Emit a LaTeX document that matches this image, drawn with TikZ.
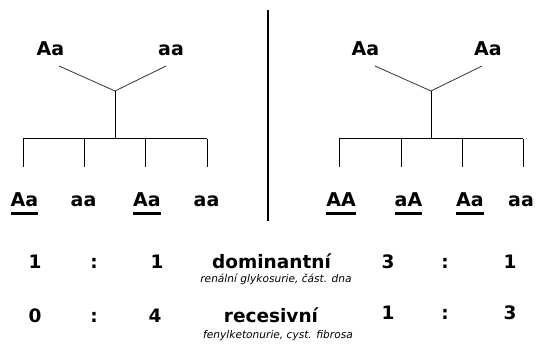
\documentclass[tikz,border=0pt]{standalone}
\usepackage{fontspec}
\setmainfont{DejaVu Sans}
\begin{document}
\begin{tikzpicture}[x=1pt,y=-1pt,
  lab/.style={font=\bfseries\fontsize{19}{22}\selectfont, inner sep=0pt, anchor=base},
  num/.style={font=\bfseries\fontsize{18.5}{21}\selectfont, inner sep=0pt, anchor=base},
  sub/.style={font=\itshape\fontsize{10.6}{12}\selectfont, inner sep=0pt, anchor=base},
  diag/.style={line width=0.8pt, draw=black!80},
  tree/.style={line width=1pt},
  ul/.style={line width=2.4pt}]
\useasboundingbox (0,0) rectangle (537,347);
% divider
\coordinate (dvt) at (268,10);
\coordinate (dvb) at (268,221);
\draw[line width=1.3pt] (dvt) -- (dvb);

% ----- left tree -----
\node[lab] (lp1) at (50.5,56) {Aa};
\node[lab] (lp2) at (171,56) {aa};
\coordinate (ld1) at (59,66);
\coordinate (ld2) at (166,66);
\coordinate (lj) at (115,91);
\coordinate (lh) at (115,139);
\coordinate (lh1) at (23,139);
\coordinate (lh2) at (84,139);
\coordinate (lh3) at (145,139);
\coordinate (lh4) at (207,139);
\coordinate (le1) at (23,167);
\coordinate (le2) at (84,167);
\coordinate (le3) at (145,167);
\coordinate (le4) at (207,167);
\draw[diag] (ld1) -- (lj) -- (ld2);
\draw[tree] (lj) -- (lh);
\draw[tree] (lh1) -- (lh4);
\foreach \i in {1,2,3,4} \draw[tree] (lh\i) -- (le\i);
\node[lab] (lc1) at (24.5,207) {Aa};
\node[lab] (lc2) at (83.5,207) {aa};
\node[lab] (lc3) at (147,207) {Aa};
\node[lab] (lc4) at (206.5,207) {aa};
\draw[ul] ([yshift=-6.5pt]lc1.base west) -- ([yshift=-6.5pt]lc1.base east);
\draw[ul] ([yshift=-6.5pt]lc3.base west) -- ([yshift=-6.5pt]lc3.base east);

% ----- right tree -----
\node[lab] (rp1) at (365.5,56) {Aa};
\node[lab] (rp2) at (488,56) {Aa};
\coordinate (rd1) at (375,66);
\coordinate (rd2) at (482,66);
\coordinate (rj) at (431,91);
\coordinate (rh) at (431,139);
\coordinate (rh1) at (339,139);
\coordinate (rh2) at (401,139);
\coordinate (rh3) at (462,139);
\coordinate (rh4) at (523,139);
\coordinate (re1) at (339,167);
\coordinate (re2) at (401,167);
\coordinate (re3) at (462,167);
\coordinate (re4) at (523,167);
\draw[diag] (rd1) -- (rj) -- (rd2);
\draw[tree] (rj) -- (rh);
\draw[tree] (rh1) -- (rh4);
\foreach \i in {1,2,3,4} \draw[tree] (rh\i) -- (re\i);
\node[lab] (rc1) at (341,207) {AA};
\node[lab] (rc2) at (408.5,207) {aA};
\node[lab] (rc3) at (470,207) {Aa};
\node[lab] (rc4) at (521,207) {aa};
\foreach \n in {rc1,rc2,rc3}
  \draw[ul] ([yshift=-6.5pt]\n.base west) -- ([yshift=-6.5pt]\n.base east);

% ----- ratios -----
\node[num] (a1) at (35,268) {1};
\node[num] (a2) at (94,268) {:};
\node[num] (a3) at (157,268) {1};
\node[num] (dom) at (271.5,268) {dominantní};
\node[sub] (doms) at (276,282) {renální glykosurie, část. dna};
\node[num] (a4) at (388,268) {3};
\node[num] (a5) at (445,268) {:};
\node[num] (a6) at (510,268) {1};

\node[num] (b1) at (35,322) {0};
\node[num] (b2) at (94,322) {:};
\node[num] (b3) at (155,322) {4};
\node[num] (rec) at (271,322) {recesivní};
\node[sub] (recs) at (278,338) {fenylketonurie, cyst. fibrosa};
\node[num] (b4) at (388,319) {1};
\node[num] (b5) at (445,319) {:};
\node[num] (b6) at (510,319) {3};
\end{tikzpicture}
\end{document}
